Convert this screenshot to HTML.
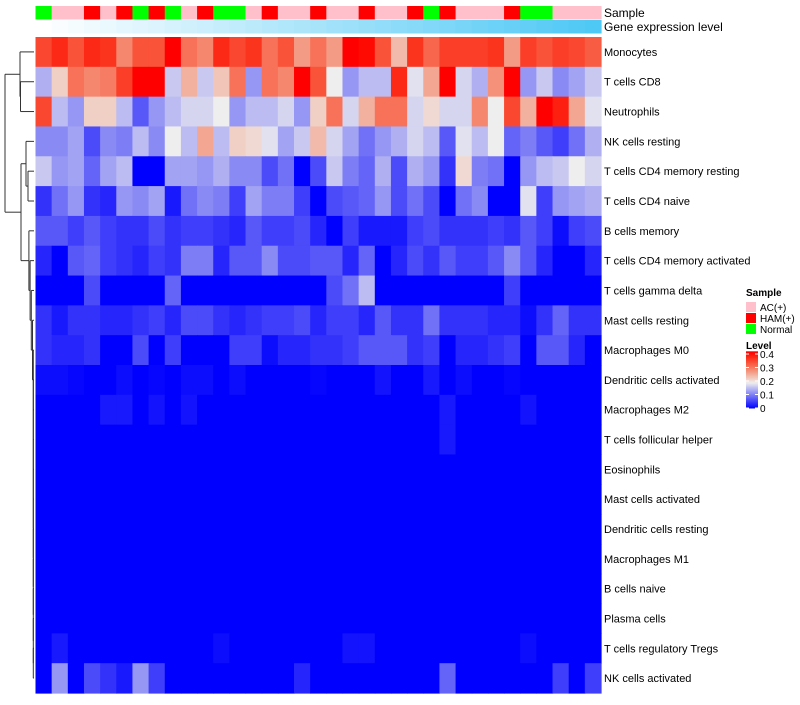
<!DOCTYPE html>
<html><head><meta charset="utf-8"><style>
body{margin:0;background:#fff;}
svg text{font-family:"Liberation Sans",sans-serif;fill:#000;}
</style></head><body>
<svg id="chart" width="800" height="700" xmlns="http://www.w3.org/2000/svg">
<g id="dendro" stroke="#333" stroke-width="1" fill="none"></g>
<g id="anno"></g>
<g id="cells"></g>
<g id="rowlabels"></g>
<text x="604" y="17" font-size="12">Sample</text>
<text x="604" y="31" font-size="12">Gene expression level</text>
<g id="legend"></g>
</svg>
<script>
const rowNames=["Monocytes","T cells CD8","Neutrophils","NK cells resting","T cells CD4 memory resting","T cells CD4 naive","B cells memory","T cells CD4 memory activated","T cells gamma delta","Mast cells resting","Macrophages M0","Dendritic cells activated","Macrophages M2","T cells follicular helper","Eosinophils","Mast cells activated","Dendritic cells resting","Macrophages M1","B cells naive","Plasma cells","T cells regulatory  Tregs","NK cells activated"];
const sampleGroups="N A A H A H N H N A H N N A H A A H A A H A A H N H A A A H N N A A A".split(" ");
const sampleLegend=["AC(+)","HAM(+)","Normal"];
const levelTicks=[0,0.1,0.2,0.3,0.4];
const r01=[0.35,0.38,0.34,0.38,0.37,0.29,0.34,0.34,0.42,0.31,0.29,0.38,0.35,0.37,0.31,0.34,0.27,0.31,0.27,0.42,0.41,0.34,0.24,0.37,0.32,0.36,0.36,0.36,0.37,0.27,0.36,0.34,0.36,0.35,0.33];
const r02=[0.14,0.22,0.31,0.29,0.30,0.36,0.42,0.42,0.16,0.25,0.16,0.23,0.31,0.12,0.31,0.29,0.42,0.34,0.19,0.12,0.15,0.15,0.38,0.18,0.26,0.42,0.17,0.14,0.28,0.42,0.12,0.16,0.11,0.13,0.16];
const r03=[0.35,0.15,0.12,0.22,0.22,0.15,0.07,0.12,0.15,0.17,0.17,0.19,0.12,0.15,0.15,0.17,0.12,0.22,0.31,0.17,0.25,0.31,0.31,0.17,0.21,0.17,0.17,0.29,0.19,0.35,0.25,0.42,0.39,0.26,0.18];
const r04=[0.11,0.11,0.13,0.06,0.11,0.10,0.15,0.11,0.19,0.15,0.26,0.15,0.22,0.21,0.18,0.13,0.16,0.24,0.17,0.13,0.09,0.12,0.14,0.17,0.15,0.07,0.18,0.15,0.19,0.08,0.10,0.07,0.05,0.09,0.14];
const r05=[0.16,0.12,0.13,0.08,0.13,0.15,0.0,0.0,0.13,0.13,0.12,0.14,0.11,0.11,0.06,0.09,0.0,0.06,0.16,0.10,0.08,0.14,0.06,0.14,0.12,0.04,0.21,0.10,0.09,0.0,0.12,0.15,0.16,0.19,0.17];
const r06=[0.04,0.09,0.12,0.04,0.03,0.12,0.11,0.13,0.02,0.09,0.11,0.10,0.05,0.13,0.10,0.10,0.05,0.0,0.06,0.07,0.08,0.12,0.06,0.09,0.06,0.0,0.09,0.11,0.0,0.0,0.18,0.05,0.12,0.13,0.14];
const r07=[0.07,0.07,0.05,0.07,0.05,0.04,0.04,0.06,0.04,0.05,0.05,0.04,0.03,0.07,0.05,0.05,0.06,0.03,0.0,0.05,0.02,0.02,0.02,0.05,0.06,0.04,0.04,0.04,0.05,0.04,0.07,0.05,0.01,0.05,0.06];
const r08=[0.03,0.0,0.07,0.08,0.05,0.04,0.03,0.05,0.04,0.10,0.10,0.03,0.07,0.07,0.11,0.06,0.06,0.07,0.07,0.03,0.08,0.0,0.03,0.06,0.04,0.07,0.05,0.05,0.07,0.11,0.07,0.03,0.0,0.0,0.03];
const r09=[0,0,0,0.06,0,0,0,0,0.08,0,0,0,0,0,0,0,0,0,0.06,0.09,0.15,0,0,0,0,0,0,0,0,0.05,0,0,0,0,0];
const r10=[0.04,0.02,0.04,0.04,0.03,0.03,0.04,0.05,0.03,0.06,0.06,0.04,0.03,0.04,0.05,0.05,0.06,0.03,0.05,0.05,0.03,0.07,0.04,0.04,0.09,0.04,0.04,0.04,0.03,0.03,0.01,0.04,0.08,0.04,0.04];
const r11=[0.04,0.03,0.03,0.04,0,0,0.06,0,0.05,0,0,0,0.05,0.05,0.01,0.03,0.03,0.04,0.04,0.05,0.07,0.07,0.07,0.04,0.05,0,0.03,0.03,0.04,0.05,0,0.07,0.07,0.03,0];
const r12=[0.01,0.01,0.005,0,0,0.01,0,0.005,0,0.01,0.01,0,0.01,0,0,0,0,0.005,0,0,0,0.015,0,0,0.02,0,0.01,0,0,0.005,0,0,0,0,0];
const r13=[0,0,0,0,0.02,0.02,0,0.015,0,0.015,0,0,0,0,0,0,0,0,0,0,0,0,0,0,0,0.02,0,0,0,0,0.015,0,0,0,0];
const r14=[0,0,0,0,0,0,0,0,0,0,0,0,0,0,0,0,0,0,0,0,0,0,0,0,0,0.02,0,0,0,0,0,0,0,0,0];
const r15=[0,0,0,0,0,0,0,0,0,0,0,0,0,0,0,0,0,0,0,0,0,0,0,0,0,0,0,0,0,0,0,0,0,0,0];
const r16=r15.slice(),r17=r15.slice(),r18=r15.slice(),r19=r15.slice(),r20=r15.slice();
const r21=[0,0.02,0,0,0,0,0,0,0,0,0,0.01,0,0,0,0,0,0,0,0.015,0.015,0,0,0,0,0,0,0,0,0,0.01,0,0,0,0];
const r22=[0,0.12,0,0.06,0.04,0.02,0.12,0.05,0,0,0,0,0,0,0,0,0.03,0,0,0,0,0,0,0,0,0.08,0,0,0,0,0,0,0.05,0,0.05];
const values=[r01,r02,r03,r04,r05,r06,r07,r08,r09,r10,r11,r12,r13,r14,r15,r16,r17,r18,r19,r20,r21,r22];

const NS="http://www.w3.org/2000/svg";
function mk(tag,attrs,parent){const e=document.createElementNS(NS,tag);for(const k in attrs)e.setAttribute(k,attrs[k]);parent.appendChild(e);return e;}
const X0=35.5,X1=601,Y0=37,Y1=693;
const nC=sampleGroups.length,nR=rowNames.length;
const cw=(X1-X0)/nC,rh=(Y1-Y0)/nR;
const xPos=i=>X0+i*cw, yPos=r=>Y0+r*rh;
const VMAX=0.42,VMID=0.19;
function color(v){
  let r,g,b;
  if(v<=VMID){const t=Math.max(0,v)/VMID;r=238*t;g=238*t;b=255-17*t;}
  else{const t=Math.min(1,(v-VMID)/(VMAX-VMID));r=238+17*t;g=238*(1-t);b=238*Math.pow(1-t,1.35);}
  return `rgb(${Math.round(r)},${Math.round(g)},${Math.round(b)})`;
}
const grpColor={A:"#FFC0CB",H:"#FF0000",N:"#00FF00"};
const cells=document.getElementById('cells');
values.forEach((row,r)=>row.forEach((v,i)=>{
  const el=mk('rect',{x:xPos(i),y:yPos(r),width:cw+0.6,height:rh+0.6,fill:color(v)},cells);
  
  
}));
const anno=document.getElementById('anno');
sampleGroups.forEach((g,i)=>{
  const el=mk('rect',{x:xPos(i),y:6,width:cw+0.6,height:13.5,fill:grpColor[g]},anno);
  
  
  const t=i/(nC-1);
  const e2=mk('rect',{x:xPos(i),y:20,width:cw+0.6,height:13.5,fill:`rgb(${Math.round(255-177*t)},${Math.round(255-55*t)},${Math.round(255-10*t)})`},anno);
  
  
});
const rl=document.getElementById('rowlabels');
rowNames.forEach((n,r)=>{
  const t=mk('text',{x:604,y:yPos(r)+rh/2+4,'font-size':11},rl);t.textContent=n;
  
  
});
const d=document.getElementById('dendro');
const cy=r=>yPos(r)+rh/2;
function seg(x1,y1,x2,y2){const l=mk('line',{x1,y1,x2,y2},d);}
function join(x,ya,yb,xa,xb){seg(xa,ya,x,ya);seg(xb,yb,x,yb);seg(x,ya,x,yb);}
join(20.5,cy(1),cy(2),34,34);
join(20,cy(0),(cy(1)+cy(2))/2,34,20.5);
join(28,cy(4),cy(5),34,34);
join(26,cy(3),(cy(4)+cy(5))/2,34,28);
let yb=cy(nR-1),xb=34;
for(let r=nR-2;r>=6;r--){const x=34-(r<=9?(10-r)*1.2:0.4)-0.3;const ym=(cy(r)+yb)/2;join(x,cy(r),yb,34,xb);yb=ym;xb=x;}
join(21,(cy(3)+ (cy(4)+cy(5))/2)/2,yb,26,xb);
const ybB=((cy(3)+(cy(4)+cy(5))/2)/2+yb)/2;
join(5,(cy(0)+(cy(1)+cy(2))/2)/2,ybB,20,21);
const lg=document.getElementById('legend');
let t=mk('text',{x:746,y:296,'font-size':10,'font-weight':'bold'},lg);t.textContent="Sample";

["A","H","N"].forEach((g,i)=>{
  const s=mk('rect',{x:746,y:302+i*11,width:10,height:10,fill:grpColor[g]},lg);
  
  const tt=mk('text',{x:760,y:311+i*11,'font-size':10},lg);tt.textContent=sampleLegend[i];
  
});
t=mk('text',{x:746,y:349,'font-size':10,'font-weight':'bold'},lg);t.textContent="Level";

const yL=v=>408-v*135;
for(let k=0;k<60;k++){const v=VMAX*k/60;const s=mk('rect',{x:746,y:yL(v+VMAX/60),width:12,height:135*VMAX/60+0.5,fill:color(v+VMAX/120)},lg);}
levelTicks.forEach(v=>{
  const l=mk('line',{x1:746,x2:749,y1:yL(v),y2:yL(v),stroke:'#fff'},lg);
  const l2=mk('line',{x1:755,x2:758,y1:yL(v),y2:yL(v),stroke:'#fff'},lg);
  const tt=mk('text',{x:760,y:yL(v)+4,'font-size':10},lg);tt.textContent=String(v);
  
});
</script>
</body></html>
